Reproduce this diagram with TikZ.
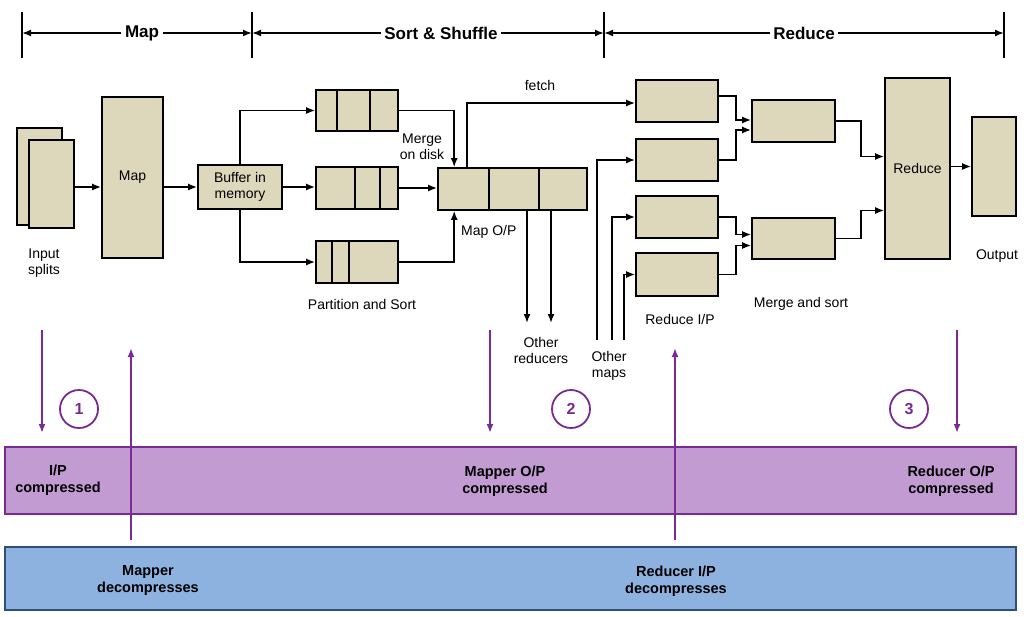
\documentclass[tikz,border=0pt]{standalone}
\usepackage{fontspec}
\setmainfont{Liberation Sans}
\usetikzlibrary{calc}
\usetikzlibrary{positioning}
\usetikzlibrary{arrows}
\usetikzlibrary{arrows.meta}
\definecolor{boxfill}{HTML}{DDD8BC}
\definecolor{pviolet}{HTML}{7A2A93}
\definecolor{bandp}{HTML}{C29BD3}
\definecolor{bandb}{HTML}{8EB2E0}
\definecolor{bandbline}{HTML}{2F4E7A}
\tikzset{
  box/.style={draw, line width=1.6pt, fill=boxfill, inner sep=0pt, font=\fontsize{14}{16}\selectfont, align=center},
  lbl/.style={font=\fontsize{14}{16}\selectfont, align=center, inner sep=1pt},
  blbl/.style={font=\bfseries\fontsize{14.5}{17}\selectfont, align=center},
  flow/.style={line width=1.7pt, -{Latex[length=9pt,width=7pt]}},
  pflow/.style={pviolet, line width=1.8pt, -{Latex[length=9pt,width=7pt]}},
  hd/.style={font=\bfseries\fontsize{17}{19}\selectfont},
}
\begin{document}
\begin{tikzpicture}[x=1pt, y=-1pt]
\useasboundingbox (0,0) rectangle (1024,616);
% header
\node[hd] (hmap) at (142,33) {Map};
\node[hd] (hsort) at (441,33) {Sort \& Shuffle};
\node[hd] (hred) at (804,33) {Reduce};
\foreach \x in {22,252,604,1004}
  \draw[line width=1.7pt] (\x,12) -- (\x,58);
\draw[flow] (hmap.west) -- (22,33);
\draw[flow] (hmap.east) -- (252,33);
\draw[flow] (hsort.west) -- (252,33);
\draw[flow] (hsort.east) -- (604,33);
\draw[flow] (hred.west) -- (604,33);
\draw[flow] (hred.east) -- (1004,33);

% bands
\node[draw=pviolet, line width=1.5pt, fill=bandp, minimum width=1011pt, minimum height=67pt] (pband) at (510.5,480.5) {};
\node[draw=bandbline, line width=1.5pt, fill=bandb, minimum width=1011pt, minimum height=63pt] (bband) at (510.5,578.5) {};
\node[blbl] (ipc) at (58,480) {I/P\\compressed};
\node[blbl] (mopc) at (505,481) {Mapper O/P\\compressed};
\node[blbl] (ropc) at (951,481) {Reducer O/P\\compressed};
\node[blbl] (mdec) at (148,581) {Mapper\\decompresses};
\node[blbl] (rdec) at (676,581) {Reducer I/P\\decompresses};

% map side
\node[box, minimum width=45pt, minimum height=97pt] (split0) at (39.5,176.5) {};
\node[box, minimum width=45pt, minimum height=88pt] (split1) at (51.5,184) {};
\node[lbl] (splitlbl) at (44,263) {Input\\splits};
\node[box, minimum width=61pt, minimum height=161pt] (map) at (132.5,177.5) {Map};
\node[box, minimum width=84pt, minimum height=44pt] (buf) at (240,187) {Buffer in\\memory};
\draw[flow] (74,187) -- (map.west |- 0,187);
\draw[flow] (map.east |- 0,187) -- (buf.west);

% partitions
\node[box, minimum width=82pt, minimum height=41pt] (p1) at (357,110.5) {};
\node[box, minimum width=82pt, minimum height=42pt] (p2) at (357,188) {};
\node[box, minimum width=82pt, minimum height=42pt] (p3) at (357,262) {};
\draw[line width=1.6pt] (p1.north west) ++(22,0) -- ++(0,41) ++(33,0) -- ++(0,-41);
\draw[line width=1.6pt] (p2.north west) ++(40,0) -- ++(0,42) ++(25,0) -- ++(0,-42);
\draw[line width=1.6pt] (p3.north west) ++(17,0) -- ++(0,42) ++(17,0) -- ++(0,-42);
\node[lbl] (partlbl) at (362,304) {Partition and Sort};
\draw[flow] (buf.north) |- (p1.west);
\draw[flow] (buf.east) -- (buf.east -| p2.west);
\draw[flow] (buf.south) |- (p3.west);

% map output
\node[box, minimum width=149pt, minimum height=42pt] (mop) at (512.5,189) {};
\draw[line width=1.6pt] (mop.north west) ++(52,0) -- ++(0,42) ++(50,0) -- ++(0,-42);
\node[lbl, anchor=west] (moplbl) at (460,232) {Map O/P};
\node[lbl] (mergelbl) at (422,147) {Merge\\on disk};
\draw[flow] (p1.east) -| ([xshift=17pt]mop.north west);
\draw[flow] (p2.east) -- (p2.east -| mop.west);
\draw[flow] (p3.east) -| ([xshift=17pt]mop.south west);
\coordinate (or1) at (527,323);
\coordinate (or2) at (551,323);
\draw[flow] (or1 |- mop.south) -- (or1);
\draw[flow] (or2 |- mop.south) -- (or2);
\node[lbl] (orlbl) at (541,350) {Other\\reducers};

% reduce inputs
\node[box, minimum width=82pt, minimum height=42pt] (r1) at (677,101) {};
\node[box, minimum width=82pt, minimum height=42pt] (r2) at (677,160) {};
\node[box, minimum width=82pt, minimum height=42pt] (r3) at (677,217) {};
\node[box, minimum width=82pt, minimum height=43pt] (r4) at (677,274.5) {};
\node[lbl] (rinlbl) at (680,319) {Reduce I/P};
\node[lbl] (fetchlbl) at (540,85) {fetch};
\draw[flow] ([xshift=30pt]mop.north west) |- ([yshift=-2pt]r1.west);
\coordinate (om1) at (597,340);
\coordinate (om2) at (612,340);
\coordinate (om3) at (624,340);
\draw[flow] (om1) |- (r2.west);
\draw[flow] (om2) |- (r3.west);
\draw[flow] (om3) |- (r4.west);
\node[lbl] (omlbl) at (609,366) {Other\\maps};

% merge and reduce
\node[box, minimum width=83pt, minimum height=42pt] (m1) at (793.5,121) {};
\node[box, minimum width=83pt, minimum height=41pt] (m2) at (793.5,238.5) {};
\node[lbl] (mslbl) at (801,304) {Merge and sort};
\draw[flow] ([yshift=5pt]r1.east) -- ++(17,0) |- ([yshift=1pt]m1.west);
\draw[flow] (r2.east) -- ++(17,0) |- ([yshift=-9pt]m1.west);
\draw[flow] (r3.east) -- ++(17,0) |- ([yshift=4pt]m2.west);
\draw[flow] (r4.east) -- ++(17,0) |- ([yshift=-7pt]m2.west);
\node[box, minimum width=65pt, minimum height=181pt] (red) at (917.5,168.5) {Reduce};
\draw[flow] (m1.east) -- ++(25,0) |- ([yshift=12pt]red.west);
\draw[flow] (m2.east) -- ++(25,0) |- ([yshift=-42pt]red.west);
\node[box, minimum width=44pt, minimum height=99pt] (out) at (994,166.5) {};
\draw[flow] (red.east |- out.west) -- (out.west);
\node[lbl] (outlbl) at (997,256) {Output};

% compression markers
\foreach \n/\x/\t in {c1/79/1, c2/571/2, c3/909/3}
  \node[draw=pviolet, line width=1.8pt, circle, minimum size=38pt, font=\bfseries\fontsize{16}{18}\selectfont, text=pviolet] (\n) at (\x,409) {\t};
\foreach \x in {42,490,957}
  \draw[pflow] (\x,330) -- ++(0,103);
\foreach \x in {131,675}
  \draw[pflow] (\x,540) -- ++(0,-192);
\end{tikzpicture}
\end{document}
